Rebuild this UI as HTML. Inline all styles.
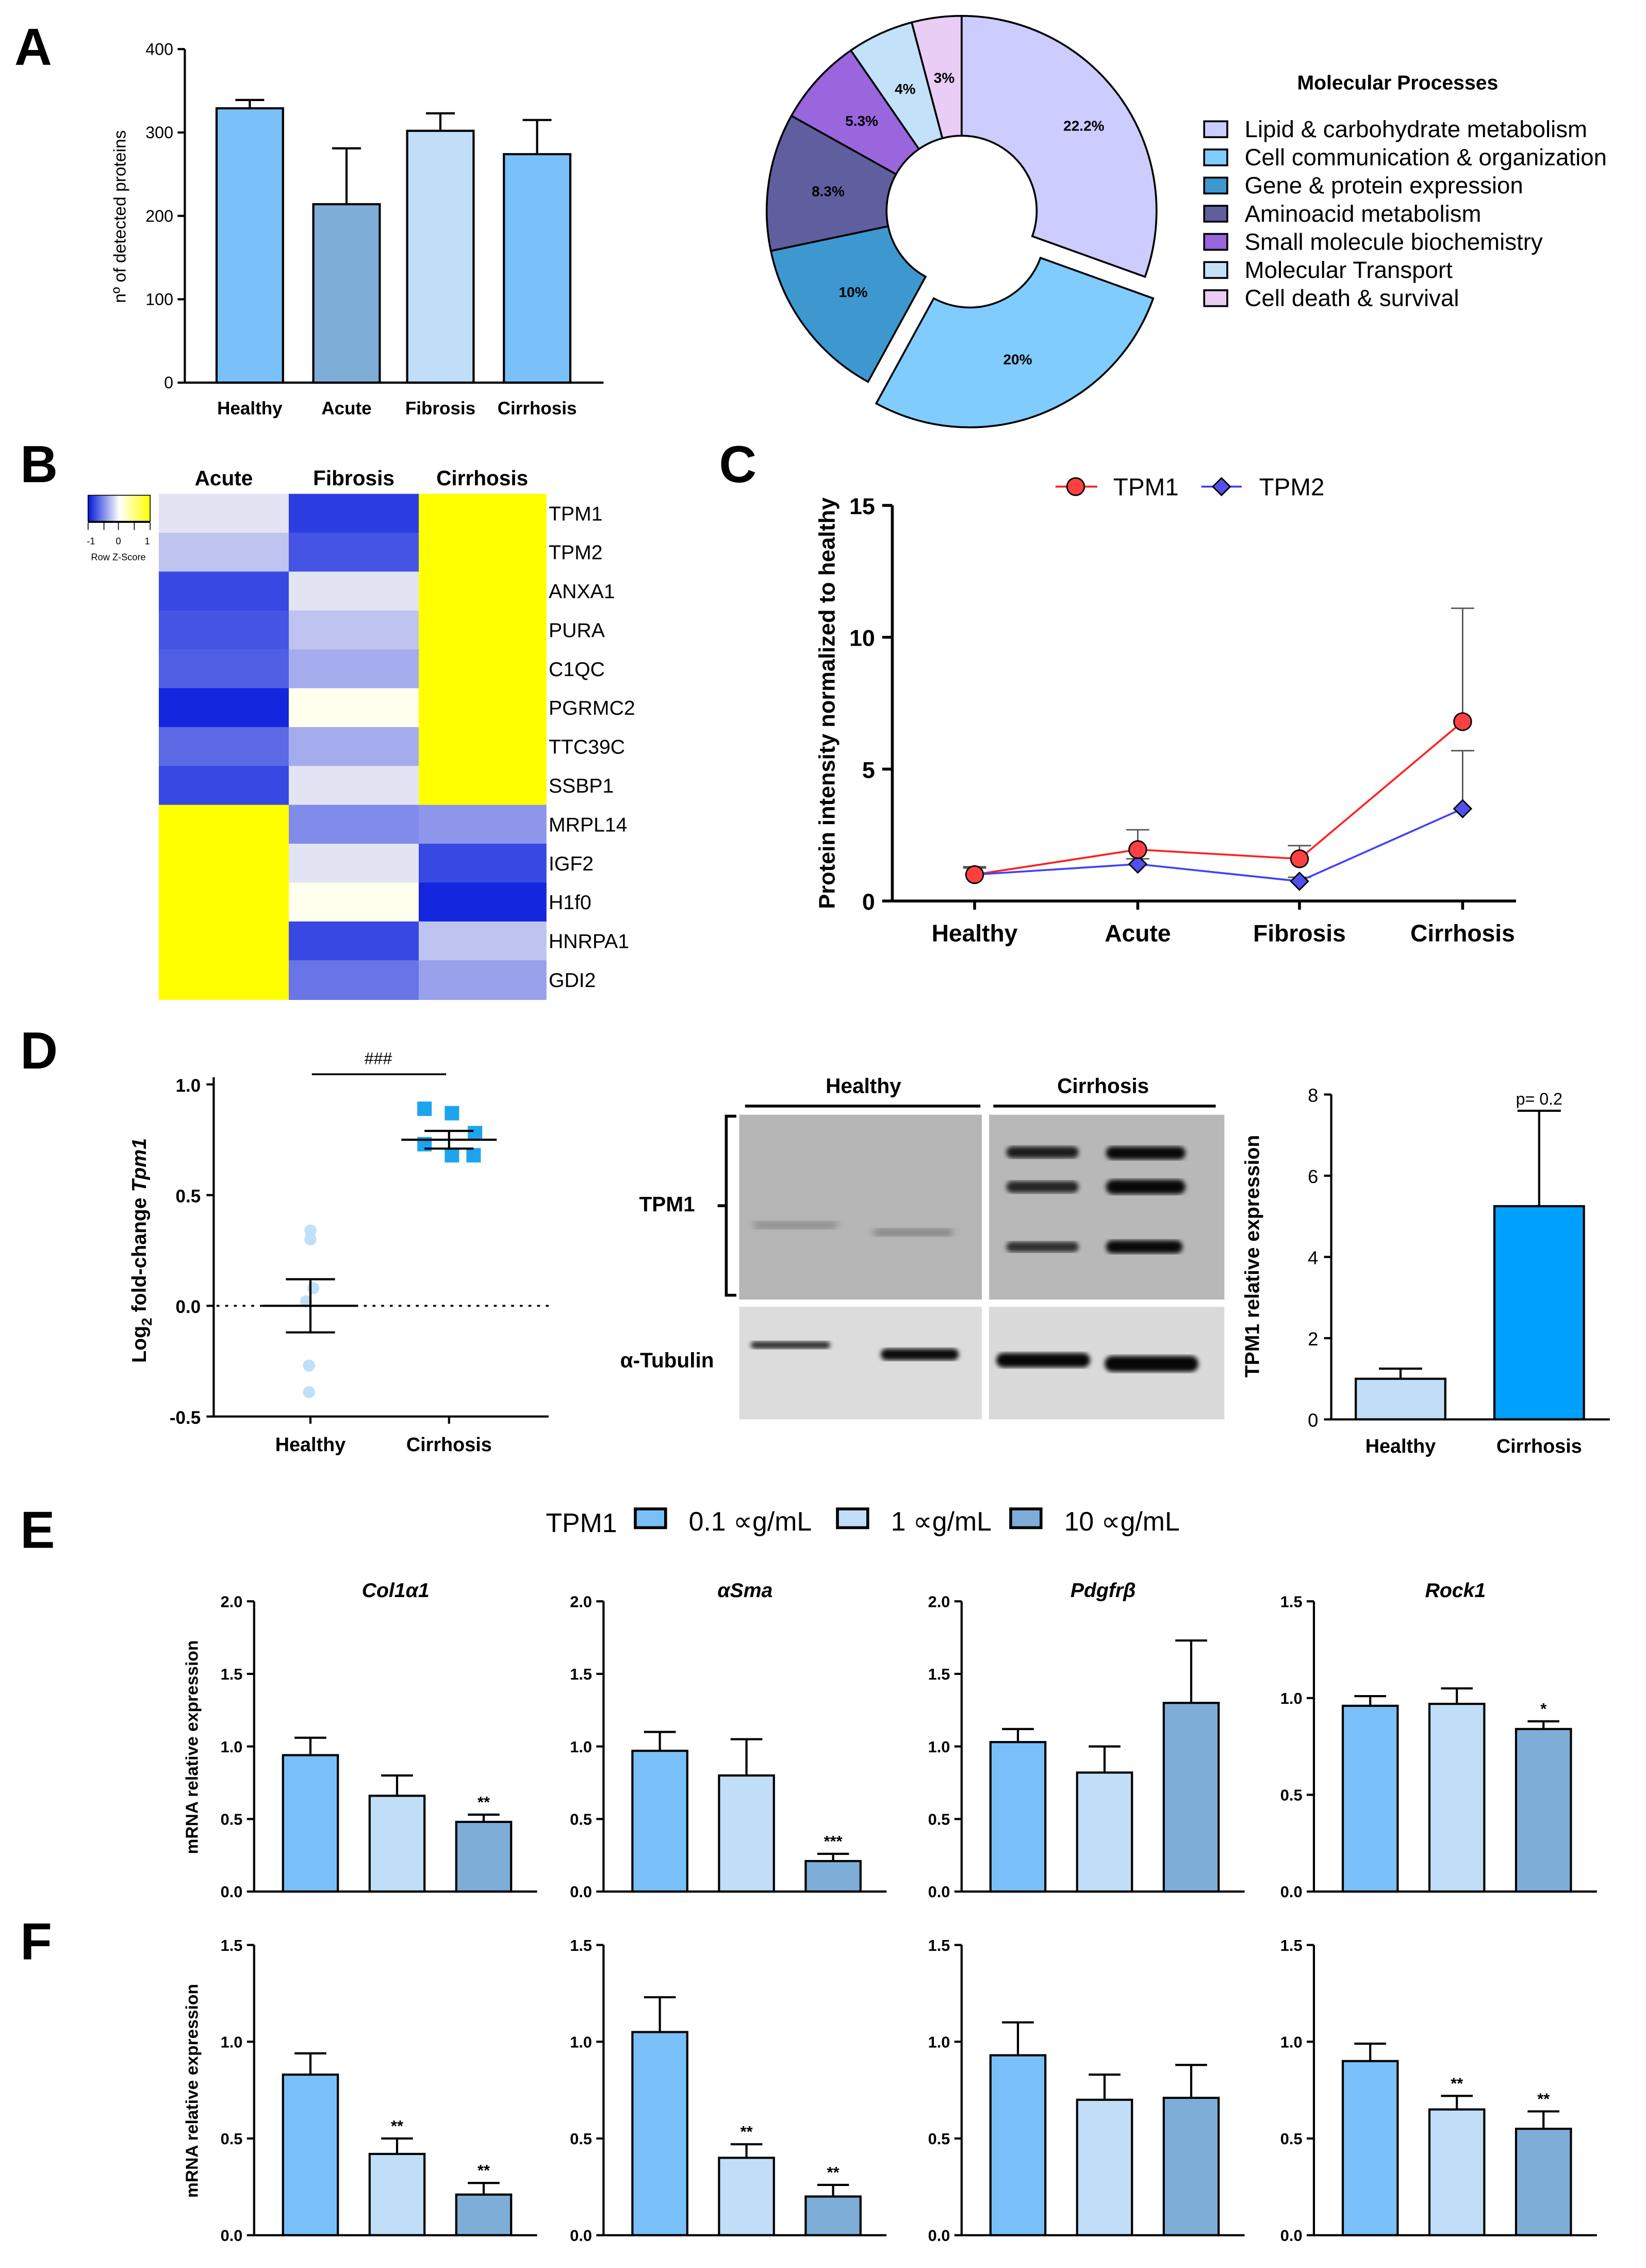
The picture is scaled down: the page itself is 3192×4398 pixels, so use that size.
<!DOCTYPE html>
<html><head><meta charset="utf-8">
<style>
html,body{margin:0;padding:0;background:#fff;}
svg{display:block;}
text{font-family:"Liberation Sans",Arial,sans-serif;}
</style></head>
<body>
<svg id="fig" xmlns="http://www.w3.org/2000/svg" width="3192" height="4398" viewBox="0 0 1140 1570.7">
<defs>
<linearGradient id="zgrad" x1="0" x2="1" y1="0" y2="0">
<stop offset="0" stop-color="#0018d8"/><stop offset="0.5" stop-color="#ffffff"/><stop offset="1" stop-color="#ffff00"/>
</linearGradient>
<filter id="blur1"><feGaussianBlur stdDeviation="1.6"/></filter>
<filter id="blur2"><feGaussianBlur stdDeviation="2.5"/></filter>
</defs>
<rect x="0" y="0" width="1140" height="1571" fill="#fff"/>
<g id="root"></g>
</svg>
<script>
// ---------- DATA ----------
// Panel A bar chart
const aCats = ['Healthy','Acute','Fibrosis','Cirrhosis'];
const aVals = [329, 214, 302, 274];
const aErr = [339, 281, 323, 315];
const aTicks = [0,100,200,300,400];
// Panel A donut
const pieLabels = ['Lipid & carbohydrate metabolism','Cell communication & organization','Gene & protein expression','Aminoacid metabolism','Small molecule biochemistry','Molecular Transport','Cell death & survival'];
const pieVals = [22.2, 20, 10, 8.3, 5.3, 4, 3];
const pieText = ['22.2%','20%','10%','8.3%','5.3%','4%','3%'];
// Panel B heatmap
const hmCols = ['Acute','Fibrosis','Cirrhosis'];
const hmRows = ['TPM1','TPM2','ANXA1','PURA','C1QC','PGRMC2','TTC39C','SSBP1','MRPL14','IGF2','H1f0','HNRPA1','GDI2'];
const hmAcute = [-0.1,-0.25,-0.8,-0.75,-0.7,-0.95,-0.65,-0.8,1,1,1,1,1];
const hmFibrosis = [-0.85,-0.75,-0.1,-0.25,-0.35,0.02,-0.35,-0.1,-0.5,-0.1,0.02,-0.8,-0.6];
const hmCirrhosis = [1,1,1,1,1,1,1,1,-0.45,-0.8,-0.95,-0.25,-0.4];
// Panel C line chart
const cCats = ['Healthy','Acute','Fibrosis','Cirrhosis'];
const tpm1 = [1, 1.95, 1.6, 6.8];
const tpm1Err = [1.3, 2.7, 2.1, 11.1];
const tpm2 = [1, 1.4, 0.75, 3.5];
const tpm2Err = [1.25, 1.6, 0.9, 5.7];
const cTicks = [0,5,10,15];
// Panel D scatter
const dHealthy = [0.34, 0.30, 0.08, 0.02, -0.27, -0.39];
const dCirr = [0.89, 0.87, 0.78, 0.73, 0.68, 0.68];
const dMean = [0.0, 0.75];
const dSem = [0.12, 0.04];
const dTicks = [-0.5, 0.0, 0.5, 1.0];
// Panel D bar
const dbCats = ['Healthy','Cirrhosis'];
const dbVals = [1.0, 5.25];
const dbErr = [1.25, 7.6];
const dbTicks = [0,2,4,6,8];
// Panels E / F
const genes = ['Col1α1','αSma','Pdgfrβ','Rock1'];
const doses = ['0.1 ∝g/mL','1 ∝g/mL','10 ∝g/mL'];
const eVals = [[0.94,0.66,0.48],[0.97,0.80,0.21],[1.03,0.82,1.30],[0.96,0.97,0.84]];
const eErr = [[1.06,0.80,0.53],[1.10,1.05,0.26],[1.12,1.00,1.73],[1.01,1.05,0.88]];
const eSig = [['','','**'],['','','***'],['','',''],['','','*']];
const eMax = [2.0,2.0,2.0,1.5];
const fVals = [[0.83,0.42,0.21],[1.05,0.40,0.20],[0.93,0.70,0.71],[0.90,0.65,0.55]];
const fErr = [[0.94,0.50,0.27],[1.23,0.47,0.26],[1.10,0.83,0.88],[0.99,0.72,0.64]];
const fSig = [['','**','**'],['','**','**'],['','',''],['','**','**']];
const fMax = [1.5,1.5,1.5,1.5];

// ---------- helpers ----------
const NS='http://www.w3.org/2000/svg';
const root=document.getElementById('root');
function mk(tag, attrs, parent){const e=document.createElementNS(NS,tag);for(const k in attrs)e.setAttribute(k,attrs[k]);(parent||root).appendChild(e);return e;}
function tx(x,y,s,size,opts,parent){opts=opts||{};const e=mk('text',{x:x,y:y,'font-size':size,'text-anchor':opts.anchor||'middle','font-weight':opts.bold?'bold':'normal','font-style':opts.italic?'italic':'normal',fill:opts.fill||'#000'},parent);if(opts.rot)e.setAttribute('transform','rotate(-90 '+x+' '+y+')');e.textContent=s;return e;}
function ln(x1,y1,x2,y2,w,col,parent){return mk('line',{x1:x1,y1:y1,x2:x2,y2:y2,stroke:col||'#000','stroke-width':w||1.5},parent);}
function grp(){return mk('g',{});}

// panel letters
[['A',10,45],['B',14,334],['C',498,334],['D',14,740],['E',14,1072],['F',14,1357]].forEach(p=>{
  const t=tx(p[1],p[2],p[0],36,{anchor:'start',bold:true});
  
  
});

// ---------- Panel A bars ----------
{
  const g=grp();
  
  
  const y0=265, ytop=34, ax=128;
  const ys=v=>y0-(v/400)*(y0-ytop);
  const xc=[173,240,305,372];
  const cols=['#79c0f9','#7eaed8','#c1def8','#79c0f9'];
  aVals.forEach((v,i)=>{
    const eb=ln(xc[i],ys(v),xc[i],ys(aErr[i]),1.5,'#000',g);
    
    
    ln(xc[i]-10,ys(aErr[i]),xc[i]+10,ys(aErr[i]),1.5,'#000',g);
    const r=mk('rect',{x:xc[i]-23,y:ys(v),width:46,height:y0-ys(v),fill:cols[i],stroke:'#000','stroke-width':1.5},g);
    
    
    const t=tx(xc[i],287,aCats[i],12.5,{bold:true},g);
    
    
  });
  ln(ax,ytop,ax,y0,1.5,'#000',g); ln(ax,y0,418,y0,1.5,'#000',g);
  aTicks.forEach(t=>{ln(ax-5,ys(t),ax,ys(t),1.5,'#000',g);const l=tx(ax-8,ys(t)+4,String(t),11.5,{anchor:'end'},g);});
  const yl=tx(87,150,'nº of detected proteins',12,{rot:true},g);
  
  
}

// ---------- Panel A donut ----------
{
  const g=grp();
  
  
  const cx=666, cy=146, R=135, r=52;
  const cols=['#ccccff','#80ccff','#3d98d0','#5f5f9f','#9966dd','#c3e1f8','#e9cdf5'];
  const total=pieVals.reduce((a,b)=>a+b,0);
  let a0=-Math.PI/2;
  pieVals.forEach((v,i)=>{
    const da=v/total*2*Math.PI, a1=a0+da, am=(a0+a1)/2;
    const off=(i===1)?16:0;
    const ox=cx+off*Math.cos(am), oy=cy+off*Math.sin(am);
    const p=(ang,rad)=>[ox+rad*Math.cos(ang),oy+rad*Math.sin(ang)];
    const large=da>Math.PI?1:0;
    const [x1,y1]=p(a0,R),[x2,y2]=p(a1,R),[x3,y3]=p(a1,r),[x4,y4]=p(a0,r);
    const d=`M${x1},${y1} A${R},${R} 0 ${large} 1 ${x2},${y2} L${x3},${y3} A${r},${r} 0 ${large} 0 ${x4},${y4} Z`;
    const s=mk('path',{d:d,fill:cols[i],stroke:'#000','stroke-width':1.3},g);
    
    
    const [lx,ly]=p(am,(R+r)/2+ (i===0?10:0));
    const t=tx(lx,ly+4,pieText[i],10,{bold:true},g);
    
    
    a0=a1;
  });
  const tt=tx(968,62,'Molecular Processes',14,{bold:true},g);
  
  
  pieLabels.forEach((s,i)=>{
    const y=90+i*19.5;
    const b=mk('rect',{x:834,y:y-6,width:16,height:11,fill:cols[i],stroke:'#000','stroke-width':1.3},g);
    
    
    const t=tx(862,y+5,s,16.3,{anchor:'start'},g);
    
    
  });
}

// ---------- Panel B heatmap ----------
{
  const g=grp();
  
  
  const colX=[110,200,290], colW=[90,90,88], y0=342, rh=(692-342)/13;
  function cmap(z){
    z=Math.max(-1,Math.min(1,z));
    if(z>=0){return `rgb(255,255,${Math.round(242*(1-z))})`;}
    const t=-z;
    const w=[250,250,245], b=[8,28,222];
    return `rgb(${Math.round(w[0]+(b[0]-w[0])*t)},${Math.round(w[1]+(b[1]-w[1])*t)},${Math.round(w[2]+(b[2]-w[2])*t)})`;
  }
  const series=[hmAcute,hmFibrosis,hmCirrhosis];
  series.forEach((arr,c)=>{
    arr.forEach((z,r)=>{
      const cell=mk('rect',{x:colX[c],y:y0+r*rh,width:colW[c]+0.5,height:rh+0.5,fill:cmap(z)},g);
      
      
    });
    const h=tx(colX[c]+colW[c]/2,336,hmCols[c],14.5,{bold:true},g);
    
    
  });
  hmRows.forEach((s,r)=>{
    const t=tx(380,y0+r*rh+rh/2+5,s,14,{anchor:'start'},g);
    
    
  });
  const lg=mk('rect',{x:61,y:343,width:43,height:18,fill:'url(#zgrad)',stroke:'#000','stroke-width':0.6},g);
  
  
  ln(61,361.5,104,361.5,1.2,'#000',g);
  [61,72,82,93,104].forEach(x=>ln(x,362,x,367,0.6,'#000',g));
  tx(63,377,'-1',6.5,{},g); tx(82,377,'0',6.5,{},g); tx(102,377,'1',6.5,{},g);
  const zl=tx(82,388,'Row Z-Score',6.5,{},g);
  
  
}

// ---------- Panel C line chart ----------
{
  const g=grp();
  
  
  const ax=618, y0=624, ytop=350;
  const ys=v=>y0-(v/15)*(y0-ytop);
  const xc=[675,788,900,1013];
  ln(ax,ytop,ax,y0,2,'#000',g); ln(ax,y0,1050,y0,2,'#000',g);
  cTicks.forEach(t=>{ln(ax-7,ys(t),ax,ys(t),2,'#000',g);const l=tx(ax-12,ys(t)+6,String(t),16,{anchor:'end',bold:true},g);});
  cCats.forEach((c,i)=>{ln(xc[i],y0,xc[i],y0+6,2,'#000',g);const l=tx(xc[i],652,c,16.5,{bold:true},g);});
  tpm1.forEach((v,i)=>{ln(xc[i],ys(v),xc[i],ys(tpm1Err[i]),1,'#555',g);ln(xc[i]-8,ys(tpm1Err[i]),xc[i]+8,ys(tpm1Err[i]),1,'#555',g);});
  tpm2.forEach((v,i)=>{ln(xc[i],ys(v),xc[i],ys(tpm2Err[i]),1,'#555',g);ln(xc[i]-8,ys(tpm2Err[i]),xc[i]+8,ys(tpm2Err[i]),1,'#555',g);});
  const l1=mk('polyline',{points:tpm1.map((v,i)=>xc[i]+','+ys(v)).join(' '),fill:'none',stroke:'#ff2020','stroke-width':1.3},g);
  
  
  const l2=mk('polyline',{points:tpm2.map((v,i)=>xc[i]+','+ys(v)).join(' '),fill:'none',stroke:'#4040ff','stroke-width':1.3},g);
  
  
  tpm2.forEach((v,i)=>{
    const y=ys(v),x=xc[i];
    const d=mk('polygon',{points:`${x},${y-6} ${x+6},${y} ${x},${y+6} ${x-6},${y}`,fill:'#5050ee',stroke:'#000','stroke-width':1},g);
    
    
  });
  tpm1.forEach((v,i)=>{
    const c=mk('circle',{cx:xc[i],cy:ys(v),r:6,fill:'#ff4040',stroke:'#000','stroke-width':1},g);
    
    
  });
  ln(731,337,760,337,1.3,'#ff2020',g);
  const lc=mk('circle',{cx:745,cy:337,r:6,fill:'#ff4040',stroke:'#000','stroke-width':1},g);
  
  
  const lt1=tx(771,343,'TPM1',17,{anchor:'start'},g);
  
  
  ln(832,337,860,337,1.3,'#4040ff',g);
  const ld=mk('polygon',{points:'846,331 852,337 846,343 840,337',fill:'#5050ee',stroke:'#000','stroke-width':1},g);
  
  
  const lt2=tx(872,343,'TPM2',17,{anchor:'start'},g);
  
  
  const yl=tx(578,487,'Protein intensity normalized to healthy',15.5,{bold:true,rot:true},g);
  
  
}

// ---------- Panel D scatter ----------
{
  const g=grp();
  
  
  const ax=148, ytop=751, ybot=981;
  const ys=v=>ybot-((v+0.5)/1.5)*(ybot-ytop);
  const xc=[215,311];
  ln(ax,ytop-5,ax,ybot,1.5,'#000',g); ln(ax,ybot,380,ybot,1.5,'#000',g);
  dTicks.forEach(t=>{ln(ax-5,ys(t),ax,ys(t),1.5,'#000',g);const l=tx(ax-9,ys(t)+5,t.toFixed(1),12.5,{anchor:'end',bold:true},g);});
  ['Healthy','Cirrhosis'].forEach((c,i)=>{ln(xc[i],ybot,xc[i],ybot+5,1.5,'#000',g);const l=tx(xc[i],1005,c,13.5,{bold:true},g);});
  mk('line',{x1:150,y1:ys(0),x2:380,y2:ys(0),stroke:'#000','stroke-width':1.3,'stroke-dasharray':'2,4'},g);
  const jit=[0,0,2,-3,-1,-1];
  dHealthy.forEach((v,i)=>{
    const c=mk('circle',{cx:xc[0]+jit[i],cy:ys(v),r:4.2,fill:'#bfe0fb'},g);
    
    
  });
  const jx=[-17,2,18,-17,2,17];
  dCirr.forEach((v,i)=>{
    const s=mk('rect',{x:xc[1]+jx[i]-5,y:ys(v)-5,width:10,height:10,fill:'#1ea4ef'},g);
    
    
  });
  dMean.forEach((m,i)=>{
    ln(xc[i]-33,ys(m),xc[i]+33,ys(m),1.5,'#000',g);
    ln(xc[i],ys(m-dSem[i]),xc[i],ys(m+dSem[i]),1.5,'#000',g);
    ln(xc[i]-17,ys(m-dSem[i]),xc[i]+17,ys(m-dSem[i]),1.5,'#000',g);
    ln(xc[i]-17,ys(m+dSem[i]),xc[i]+17,ys(m+dSem[i]),1.5,'#000',g);
  });
  ln(216,744,309,744,1.3,'#000',g);
  const sg=tx(262,737,'###',11.5,{},g);
  
  
  const yl=mk('text',{x:101,y:866,'font-size':14,'text-anchor':'middle','font-weight':'bold',transform:'rotate(-90 101 866)'},g);
  yl.innerHTML='Log<tspan font-size="10" dy="4">2</tspan><tspan dy="-4"> fold-change </tspan><tspan font-style="italic">Tpm1</tspan>';
  
  
}

// ---------- Panel D western blot ----------
{
  const g=grp();
  
  
  const up1=mk('rect',{x:512,y:772,width:168,height:128,fill:'#b5b5b5'},g);
  
  
  const up2=mk('rect',{x:685,y:772,width:163,height:128,fill:'#b8b8b8'},g);
  
  
  const lo1=mk('rect',{x:512,y:905,width:168,height:78,fill:'#dcdcdc'},g);
  
  
  const lo2=mk('rect',{x:685,y:905,width:163,height:78,fill:'#dadada'},g);
  
  
  const band=(x,y,w,h,op,f)=>mk('rect',{x:x,y:y,width:w,height:h,rx:h/2,fill:'#000','fill-opacity':op,filter:'url(#'+f+')'},g);
  band(522,846,58,5,0.25,'blur2'); band(605,851,55,5,0.3,'blur2');
  band(697,794,50,8,0.85,'blur1'); band(766,794,55,9,0.95,'blur1');
  band(697,818,50,8,0.8,'blur1'); band(766,817,55,10,0.95,'blur1');
  band(697,860,50,7,0.75,'blur1'); band(766,859,53,9,0.95,'blur1');
  band(520,929,55,5,0.8,'blur1'); band(610,934,54,8,0.95,'blur1');
  band(690,937,65,10,0.97,'blur1'); band(765,939,65,11,0.97,'blur1');
  ln(516,766,679,766,2,'#000',g); ln(688,766,842,766,2,'#000',g);
  const h1=tx(598,757,'Healthy',14.5,{bold:true},g);
  
  
  const h2=tx(764,757,'Cirrhosis',14.5,{bold:true},g);
  
  
  mk('path',{d:'M510,773 H503 V897 H510 M503,835 H497',fill:'none',stroke:'#000','stroke-width':2},g);
  const t1=tx(462,839,'TPM1',14.5,{bold:true},g);
  
  
  const t2=tx(462,947,'α-Tubulin',14.5,{bold:true},g);
  
  
}

// ---------- Panel D bar ----------
{
  const g=grp();
  
  
  const ax=922, y0=983, ytop=758;
  const ys=v=>y0-(v/8)*(y0-ytop);
  const xc=[970,1066];
  const cols=['#c1def8','#00a0ff'];
  dbVals.forEach((v,i)=>{
    ln(xc[i],ys(v),xc[i],ys(dbErr[i]),1.5,'#000',g);
    ln(xc[i]-15,ys(dbErr[i]),xc[i]+15,ys(dbErr[i]),1.5,'#000',g);
    const r=mk('rect',{x:xc[i]-31,y:ys(v),width:62,height:y0-ys(v),fill:cols[i],stroke:'#000','stroke-width':1.5},g);
    
    
    const l=tx(xc[i],1006,dbCats[i],13.5,{bold:true},g);
    
    
  });
  ln(ax,ytop,ax,y0,1.5,'#000',g); ln(ax,y0,1115,y0,1.5,'#000',g);
  dbTicks.forEach(t=>{ln(ax-5,ys(t),ax,ys(t),1.5,'#000',g);const l=tx(ax-9,ys(t)+5,String(t),13,{anchor:'end'},g);});
  const p=tx(1066,765,'p= 0.2',11.5,{},g);
  
  
  const yl=tx(872,870,'TPM1 relative expression',14,{bold:true,rot:true},g);
  
  
}

// ---------- E legend ----------
const eCols=['#79c0f9','#c1def8','#7eaed8'];
{
  const g=grp();
  
  
  const t=tx(378,1061,'TPM1',18.5,{anchor:'start'},g);
  
  
  const lx=[440,580,700];
  doses.forEach((d,i)=>{
    const s=mk('rect',{x:lx[i],y:1045,width:21,height:13,fill:eCols[i],stroke:'#000','stroke-width':2},g);
    
    
    const l=tx(lx[i]+37,1060,d,18.5,{anchor:'start'},g);
    
    
  });
}

// ---------- E / F bar panels ----------
function barPanel(axX,ytop,ybot,maxv,vals,errs,sigs,title,row,gi){
  const g=grp();
  
  
  const ys=v=>ybot-(v/maxv)*(ybot-ytop);
  const offs=[39,99,159];
  vals.forEach((v,i)=>{
    const xc=axX+offs[i];
    ln(xc,ys(v),xc,ys(errs[i]),1.5,'#000',g);
    ln(xc-11,ys(errs[i]),xc+11,ys(errs[i]),1.5,'#000',g);
    const r=mk('rect',{x:xc-19,y:ys(v),width:38,height:ybot-ys(v),fill:eCols[i],stroke:'#000','stroke-width':1.5},g);
    
    
    if(sigs[i]){const s=tx(xc,ys(errs[i])-5,sigs[i],11,{bold:true},g);}
  });
  ln(axX,ytop,axX,ybot,1.5,'#000',g); ln(axX,ybot,axX+196,ybot,1.5,'#000',g);
  const step=0.5;
  for(let t=0;t<=maxv+1e-9;t+=step){
    ln(axX-5,ys(t),axX,ys(t),1.5,'#000',g);
    const l=tx(axX-8,ys(t)+4,t.toFixed(1),11,{anchor:'end',bold:true},g);
    
    
  }
  if(title){const tt=tx(axX+98,1106,title,14,{bold:true,italic:true},g);}
}
const axXs=[176,418,666,910];
genes.forEach((gn,i)=>barPanel(axXs[i],1109,1310,eMax[i],eVals[i],eErr[i],eSig[i],gn,'e',i));
genes.forEach((gn,i)=>barPanel(axXs[i],1347,1548,fMax[i],fVals[i],fErr[i],fSig[i],'','f',i));
{
  const a=tx(137,1210,'mRNA relative expression',12,{bold:true,rot:true});
  
  
  const b=tx(137,1448,'mRNA relative expression',12,{bold:true,rot:true});
  
  
}
</script>
</body></html>
